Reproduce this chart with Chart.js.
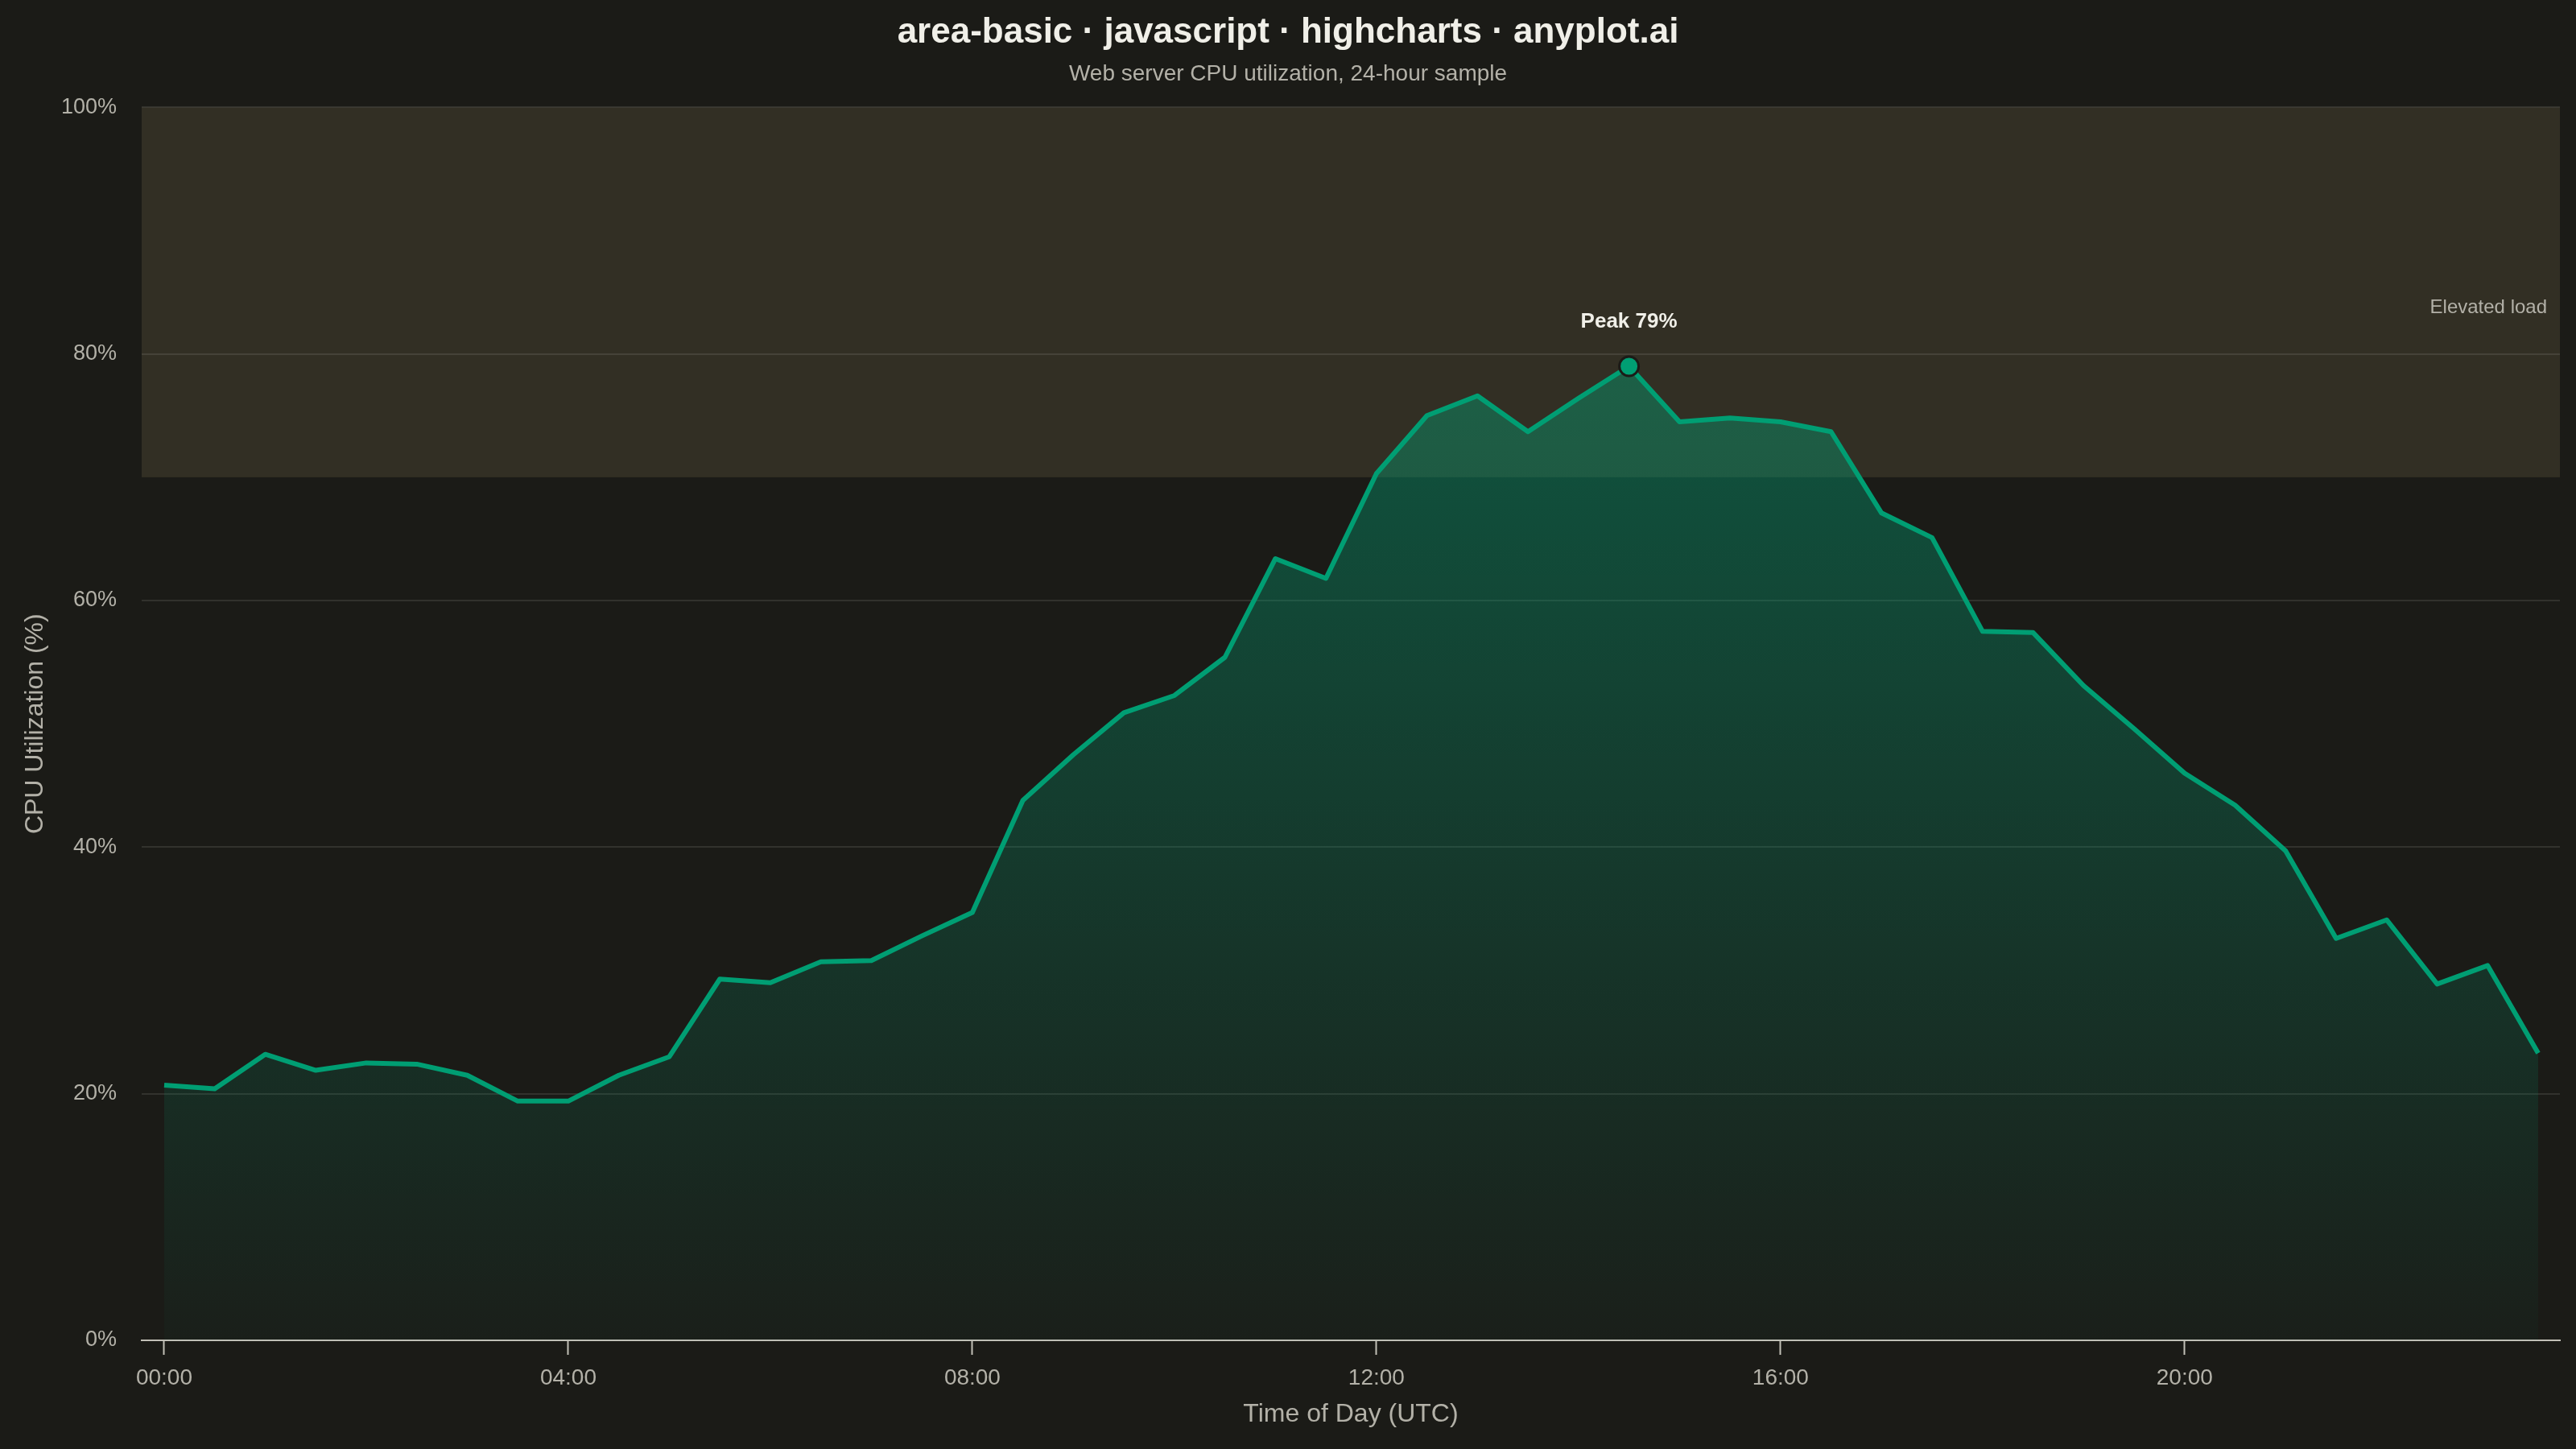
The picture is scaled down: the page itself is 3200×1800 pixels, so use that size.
<!DOCTYPE html>
<html>
<head>
<meta charset="utf-8">
<title>area-basic · javascript · highcharts · anyplot.ai</title>
<script src="https://cdn.jsdelivr.net/npm/chart.js@4.4.1/dist/chart.umd.min.js"></script>
<style>
  html, body { margin: 0; padding: 0; background: #1b1b17; }
  canvas { display: block; }
</style>
</head>
<body>
<canvas id="cpuChart" width="3200" height="1800"></canvas>
<script>
// ── data ────────────────────────────────────────────────
const times = [
  '00:00', '00:30', '01:00', '01:30', '02:00', '02:30', '03:00', '03:30',
  '04:00', '04:30', '05:00', '05:30', '06:00', '06:30', '07:00', '07:30',
  '08:00', '08:30', '09:00', '09:30', '10:00', '10:30', '11:00', '11:30',
  '12:00', '12:30', '13:00', '13:30', '14:00', '14:30', '15:00', '15:30',
  '16:00', '16:30', '17:00', '17:30', '18:00', '18:30', '19:00', '19:30',
  '20:00', '20:30', '21:00', '21:30', '22:00', '22:30', '23:00', '23:30'
];
const cpuValues = [
  20.7, 20.4, 23.2, 21.9, 22.5, 22.4, 21.5, 19.4,
  19.4, 21.5, 23.0, 29.3, 29.0, 30.7, 30.8, 32.8,
  34.7, 43.8, 47.5, 50.9, 52.3, 55.4, 63.4, 61.8,
  70.3, 75.0, 76.6, 73.7, 76.4, 79.0, 74.5, 74.8,
  74.5, 73.7, 67.1, 65.1, 57.5, 57.4, 53.1, 49.6,
  46.0, 43.4, 39.7, 32.6, 34.1, 28.9, 30.4, 23.3
];
const xTickLabels = ['00:00', '04:00', '08:00', '12:00', '16:00', '20:00'];
const yTickValues = [0, 20, 40, 60, 80, 100];
const bandRange = [70, 100];
const bandLabel = 'Elevated load';

// ── look ────────────────────────────────────────────────
const FONT = '"Liberation Sans", Arial, Helvetica, sans-serif';
const BG = '#1b1b17';
const BAND = '#322f24';
const LINE = '#009E73';
const TEXT = '#f0efe8';
const MUTED = '#b3b1a8';
const AXIS = '#c2c0b7';
const GRID = 'rgba(240, 239, 232, 0.11)';

const peakIndex = cpuValues.indexOf(Math.max(...cpuValues));

// background + plot band, drawn under the grid
const bandPlugin = {
  id: 'band',
  beforeDraw(chart) {
    const { ctx, chartArea, scales } = chart;
    ctx.save();
    ctx.fillStyle = BG;
    ctx.fillRect(0, 0, chart.width, chart.height);
    const yTop = scales.y.getPixelForValue(bandRange[1]);
    const yBot = scales.y.getPixelForValue(bandRange[0]);
    ctx.fillStyle = BAND;
    ctx.fillRect(chartArea.left, yTop, chartArea.right - chartArea.left, yBot - yTop);
    ctx.restore();
  }
};

// band label and peak annotation
const labelPlugin = {
  id: 'labels',
  afterDatasetsDraw(chart) {
    const { ctx, chartArea, scales } = chart;
    ctx.save();
    ctx.textBaseline = 'middle';

    ctx.font = '24px ' + FONT;
    ctx.fillStyle = MUTED;
    ctx.textAlign = 'right';
    ctx.fillText(bandLabel, chartArea.right - 16, scales.y.getPixelForValue(bandRange[1]) + 249);

    const pt = chart.getDatasetMeta(0).data[peakIndex];
    ctx.font = 'bold 26px ' + FONT;
    ctx.fillStyle = TEXT;
    ctx.textAlign = 'center';
    ctx.fillText('Peak ' + Math.round(cpuValues[peakIndex]) + '%', pt.x, pt.y - 55);
    ctx.restore();
  }
};

const ctx = document.getElementById('cpuChart').getContext('2d');
new Chart(ctx, {
  type: 'line',
  data: {
    datasets: [{
      label: 'CPU Utilization',
      data: cpuValues.map((v, i) => ({ x: i, y: v })),
      borderColor: LINE,
      borderWidth: 6,
      borderJoinStyle: 'round',
      tension: 0,
      fill: 'origin',
      backgroundColor(c) {
        const { chart } = c;
        const { chartArea, scales } = chart;
        if (!chartArea) return 'rgba(0,158,115,0.25)';
        const top = scales.y.getPixelForValue(cpuValues[peakIndex]);
        const g = chart.ctx.createLinearGradient(0, top, 0, chartArea.bottom);
        g.addColorStop(0, 'rgba(0,158,115,0.44)');
        g.addColorStop(1, 'rgba(0,158,115,0.03)');
        return g;
      },
      pointRadius: c => (c.dataIndex === peakIndex ? 12 : 0),
      pointBackgroundColor: LINE,
      pointBorderColor: BG,
      pointBorderWidth: 3
    }]
  },
  options: {
    responsive: false,
    devicePixelRatio: 1,
    animation: false,
    events: [],
    layout: { padding: 0 },
    scales: {
      x: {
        type: 'linear',
        min: -0.446,
        max: 47.43,
        afterBuildTicks: axis => {
          axis.ticks = xTickLabels.map(t => ({ value: times.indexOf(t) }));
        },
        afterFit: s => { s.height = 135; },
        ticks: {
          callback: v => times[v],
          color: MUTED,
          font: { family: FONT, size: 28 },
          padding: 12,
          maxRotation: 0
        },
        grid: {
          drawOnChartArea: false,
          drawTicks: true,
          tickLength: 18,
          tickColor: AXIS,
          tickWidth: 2
        },
        border: { display: true, color: AXIS, width: 2 },
        title: {
          display: true,
          text: 'Time of Day (UTC)',
          color: MUTED,
          font: { family: FONT, size: 32 },
          padding: { top: 0, bottom: 24 }
        }
      },
      y: {
        min: 0,
        max: 100,
        afterBuildTicks: axis => {
          axis.ticks = yTickValues.map(v => ({ value: v }));
        },
        afterFit: s => { s.width = 176; },
        ticks: {
          callback: v => v + '%',
          color: MUTED,
          font: { family: FONT, size: 27 },
          padding: 31
        },
        grid: { color: GRID, lineWidth: 2, drawTicks: false },
        border: { display: false },
        title: {
          display: true,
          text: 'CPU Utilization (%)',
          color: MUTED,
          font: { family: FONT, size: 32 },
          padding: { top: 25, bottom: 0 }
        }
      },
      // empty right-hand gutter so the titles stay centred on the full canvas
      gutter: {
        type: 'linear',
        position: 'right',
        display: true,
        ticks: { display: false },
        grid: { display: false, drawTicks: false },
        border: { display: false },
        afterFit: s => { s.width = 20; }
      }
    },
    plugins: {
      legend: { display: false },
      tooltip: { enabled: false },
      title: {
        display: true,
        text: 'area-basic · javascript · highcharts · anyplot.ai',
        color: TEXT,
        font: { family: FONT, size: 44, weight: 'bold' },
        padding: { top: 14, bottom: 0 }
      },
      subtitle: {
        display: true,
        text: 'Web server CPU utilization, 24-hour sample',
        color: MUTED,
        font: { family: FONT, size: 28 },
        padding: { top: 9, bottom: 24 }
      }
    }
  },
  plugins: [bandPlugin, labelPlugin]
});
</script>
</body>
</html>
